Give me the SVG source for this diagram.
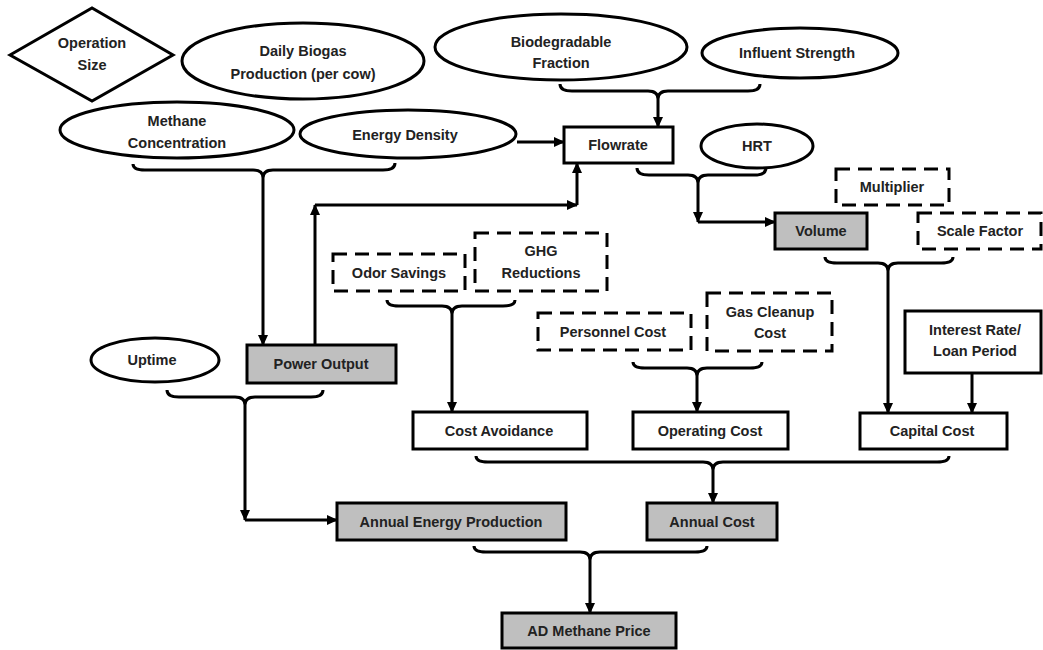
<svg xmlns="http://www.w3.org/2000/svg" width="1043" height="650" viewBox="0 0 1043 650">
<defs>
<marker id="ah" markerUnits="userSpaceOnUse" markerWidth="11" markerHeight="10" refX="10" refY="5" orient="auto">
<path d="M0,0 L11,5 L0,10 z" fill="#000"/>
</marker>
<style>
.s{fill:#fff;stroke:#000;stroke-width:3}
.g{fill:#bfbfbf;stroke:#000;stroke-width:3}
.d{fill:#fff;stroke:#000;stroke-width:3;stroke-dasharray:14 8}
.t{font-family:"Liberation Sans",Arial,sans-serif;font-weight:bold;font-size:14.5px;fill:#222;text-anchor:middle}
.c{fill:none;stroke:#000;stroke-width:3}
.a{marker-end:url(#ah)}
</style>
</defs>
<rect width="1043" height="650" fill="#fff"/>

<g id="connectors">
<!-- Methane + Energy brace -> Power Output -->
<path class="c a" d="M395,163 Q395,170 383,170 L273,170 Q263,170 263,178 M133,164 Q133,170 145,170 L253,170 Q263,170 263,178 L263,345"/>
<!-- Biodegradable + Influent brace -> Flowrate -->
<path class="c a" d="M760,84 Q760,91 748,91 L668,91 Q658,91 658,99 M560,84 Q560,91 572,91 L648,91 Q658,91 658,99 L658,127"/>
<!-- Energy Density -> Flowrate -->
<path class="c a" d="M517,142 L564,142"/>
<!-- Power Output -> Flowrate -->
<path class="c a" d="M315,345 L315,205"/>
<path class="c a" d="M315,205 L577,205"/>
<path class="c a" d="M577,205 L577,163"/>
<!-- Flowrate + HRT brace -> Volume -->
<path class="c a" d="M766,168 Q766,175 754,175 L708,175 Q698,175 698,183 M637,168 Q637,175 649,175 L688,175 Q698,175 698,183 L698,222"/>
<path class="c a" d="M698,222 L775,222"/>
<!-- Volume + Scale Factor brace -> Capital Cost -->
<path class="c a" d="M953,257 Q953,263 941,263 L898,263 Q888,263 888,271 M825,257 Q825,263 837,263 L878,263 Q888,263 888,271 L888,413"/>
<!-- Odor + GHG brace -> Cost Avoidance -->
<path class="c a" d="M515,300 Q515,306 503,306 L462,306 Q452,306 452,314 M387,300 Q387,306 399,306 L442,306 Q452,306 452,314 L452,412"/>
<!-- Personnel + Gas brace -> Operating Cost -->
<path class="c a" d="M762,362 Q762,368 750,368 L707,368 Q697,368 697,376 M633,362 Q633,368 645,368 L687,368 Q697,368 697,376 L697,412"/>
<!-- Interest -> Capital Cost -->
<path class="c a" d="M972,373 L972,413"/>
<!-- Uptime + Power brace -> Annual Energy Production -->
<path class="c a" d="M323,390 Q323,397 311,397 L255,397 Q245,397 245,405 M167,390 Q167,397 179,397 L235,397 Q245,397 245,405 L245,520"/>
<path class="c a" d="M245,520 L337,520"/>
<!-- Bottom row brace -> Annual Cost -->
<path class="c a" d="M949,456 Q949,462 937,462 L723,462 Q713,462 713,470 M476,456 Q476,462 488,462 L703,462 Q713,462 713,470 L713,503"/>
<!-- Annual Energy + Annual Cost brace -> AD Methane Price -->
<path class="c a" d="M707,546 Q707,552 695,552 L600,552 Q590,552 590,560 M474,546 Q474,552 486,552 L580,552 Q590,552 590,560 L590,613"/>
</g>

<g id="operation-size">
<polygon class="s" points="10,55 92,8 173,55 92,101"/>
<text class="t" x="92" y="48">Operation</text>
<text class="t" x="92" y="70">Size</text>
</g>
<g id="daily-biogas">
<ellipse class="s" cx="303" cy="61" rx="121" ry="38"/>
<text class="t" x="303" y="56">Daily Biogas</text>
<text class="t" x="303" y="79">Production (per cow)</text>
</g>
<g id="methane-concentration">
<ellipse class="s" cx="177" cy="130" rx="117" ry="28"/>
<text class="t" x="177" y="126">Methane</text>
<text class="t" x="177" y="148">Concentration</text>
</g>
<g id="energy-density">
<ellipse class="s" cx="408" cy="134" rx="108" ry="24"/>
<text class="t" x="405" y="140">Energy Density</text>
</g>
<g id="biodegradable-fraction">
<ellipse class="s" cx="561" cy="47" rx="126" ry="33"/>
<text class="t" x="561" y="47">Biodegradable</text>
<text class="t" x="561" y="68">Fraction</text>
</g>
<g id="influent-strength">
<ellipse class="s" cx="800" cy="53" rx="98" ry="25"/>
<text class="t" x="797" y="58">Influent Strength</text>
</g>
<g id="flowrate">
<rect class="s" x="564" y="127" width="109" height="36"/>
<text class="t" x="618" y="150">Flowrate</text>
</g>
<g id="hrt">
<ellipse class="s" cx="757" cy="146" rx="56" ry="22"/>
<text class="t" x="757" y="151">HRT</text>
</g>
<g id="volume">
<rect class="g" x="775" y="213" width="92" height="36"/>
<text class="t" x="821" y="236">Volume</text>
</g>
<g id="multiplier">
<rect class="d" x="836" y="169" width="113" height="36"/>
<text class="t" x="892" y="192">Multiplier</text>
</g>
<g id="scale-factor">
<rect class="d" x="918" y="213" width="123" height="36"/>
<text class="t" x="980" y="236">Scale Factor</text>
</g>
<g id="odor-savings">
<rect class="d" x="333" y="254" width="132" height="37"/>
<text class="t" x="399" y="278">Odor Savings</text>
</g>
<g id="ghg-reductions">
<rect class="d" x="475" y="233" width="132" height="58"/>
<text class="t" x="541" y="256">GHG</text>
<text class="t" x="541" y="278">Reductions</text>
</g>
<g id="uptime">
<ellipse class="s" cx="155" cy="360" rx="64" ry="22"/>
<text class="t" x="152" y="365">Uptime</text>
</g>
<g id="power-output">
<rect class="g" x="247" y="345" width="149" height="38"/>
<text class="t" x="321" y="369">Power Output</text>
</g>
<g id="personnel-cost">
<rect class="d" x="538" y="313" width="153" height="37"/>
<text class="t" x="613" y="337">Personnel Cost</text>
</g>
<g id="gas-cleanup-cost">
<rect class="d" x="707" y="293" width="125" height="58"/>
<text class="t" x="770" y="317">Gas Cleanup</text>
<text class="t" x="770" y="338">Cost</text>
</g>
<g id="interest-rate">
<rect class="s" x="905" y="311" width="136" height="62"/>
<text class="t" x="975" y="335">Interest Rate/</text>
<text class="t" x="975" y="356">Loan Period</text>
</g>
<g id="cost-avoidance">
<rect class="s" x="413" y="412" width="174" height="37"/>
<text class="t" x="499" y="436">Cost Avoidance</text>
</g>
<g id="operating-cost">
<rect class="s" x="633" y="412" width="155" height="37"/>
<text class="t" x="710" y="436">Operating Cost</text>
</g>
<g id="capital-cost">
<rect class="s" x="860" y="413" width="147" height="36"/>
<text class="t" x="932" y="436">Capital Cost</text>
</g>
<g id="annual-energy-production">
<rect class="g" x="337" y="503" width="229" height="37"/>
<text class="t" x="451" y="527">Annual Energy Production</text>
</g>
<g id="annual-cost">
<rect class="g" x="647" y="503" width="130" height="37"/>
<text class="t" x="712" y="527">Annual Cost</text>
</g>
<g id="ad-methane-price">
<rect class="g" x="502" y="613" width="174" height="35"/>
<text class="t" x="589" y="636">AD Methane Price</text>
</g>
</svg>
